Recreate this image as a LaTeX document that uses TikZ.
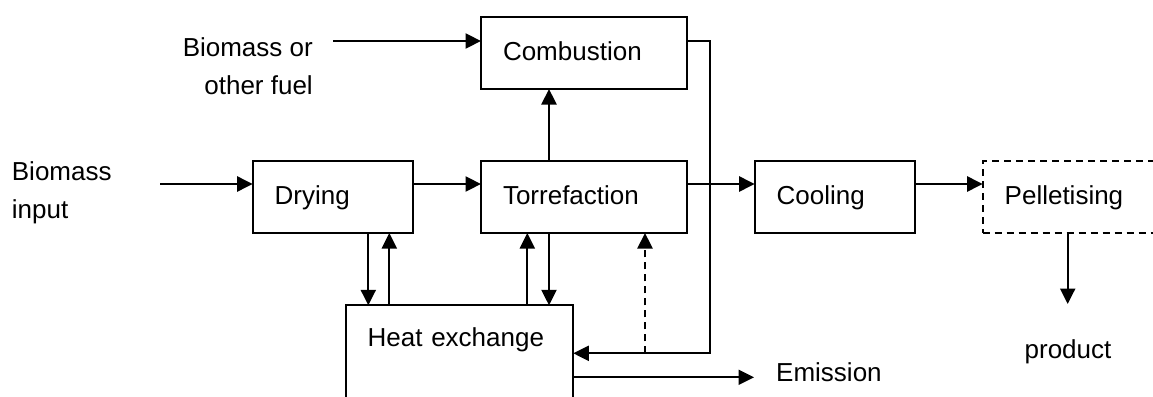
\documentclass[tikz,border=0pt]{standalone}
\usepackage{fontspec}
\setmainfont{Liberation Sans}
\usetikzlibrary{arrows.meta}
\begin{document}
\begin{tikzpicture}[x=1pt,y=-1pt,
  every node/.style={font=\fontsize{26}{31}\selectfont},
  ln/.style={line width=2.2pt},
  arr/.style={ln,-{Triangle[length=15.5pt,width=15pt]}},
  proc/.style={draw,ln,rectangle,anchor=north west,align=left,outer sep=0pt,
    inner xsep=22pt,inner ysep=0pt,text height=19pt,text depth=5pt,minimum height=72pt},
  lbl/.style={inner sep=0pt,anchor=base west}]
\useasboundingbox (0,0) rectangle (1153,396);
\clip (0,0) rectangle (1153,396);

% process boxes
\node[proc,text width=162pt] (comb) at (481,17) {Combustion};
\node[proc,text width=162pt] (torr) at (481,161) {Torrefaction};
\node[proc,text width=116.6pt] (dry) at (252.7,161) {Drying};
\node[proc,text width=116.6pt] (cool) at (754.7,161) {Cooling};
\node[proc,text width=186pt,dash pattern=on 7pt off 5pt] (pel) at (982.7,161) {Pelletising};
\node[proc,text width=183.6pt,inner ysep=22.4pt,text depth=80pt] (heat) at (345.7,305.3) {Heat exchange};

% labels
\node[lbl,anchor=base east] (fuelA) at (313,56.7) {Biomass or};
\node[lbl,anchor=base east] (fuelB) at (313,94) {other fuel};
\node[lbl] (inA) at (11.7,180.7) {Biomass};
\node[lbl] (inB) at (11.7,218) {input};
\node[lbl] (emi) at (776,381.7) {Emission};
\node[lbl,anchor=base] (prod) at (1068,358.3) {product};

% helper coordinates
\coordinate (rowY) at (0,184);
\coordinate (inS) at (160,184);
\coordinate (fuelS) at (333,41);
\coordinate (bend1) at (710,41);
\coordinate (bend2) at (710,353.3);
\coordinate (dashX) at (645,353.3);
\coordinate (emiE) at (754,377.3);
\coordinate (prodE) at (1067.7,304);
\coordinate (xDdown) at (368.3,0);
\coordinate (xDup) at (389.3,0);
\coordinate (xTup) at (527.3,0);
\coordinate (xTdown) at (549,0);

% main flow
\draw[arr] (inS) -- (inS -| dry.west);
\draw[arr] (dry.east |- rowY) -- (torr.west |- rowY);
\draw[arr] (torr.east |- rowY) -- (cool.west |- rowY);
\draw[arr] (cool.east |- rowY) -- (pel.west |- rowY);
\draw[arr] (fuelS) -- (fuelS -| comb.west);
\draw[arr] (xTdown |- torr.north) -- (xTdown |- comb.south);
\draw[arr] (comb.east |- fuelS) -- (bend1) -- (bend2) -- (bend2 -| heat.east);
\draw[arr,dash pattern=on 7pt off 5pt] (dashX) -- (dashX |- torr.south);
\draw[arr] (heat.east |- emiE) -- (emiE);
\draw[arr] (prodE |- pel.south) -- (prodE);

% heat exchange links
\draw[arr] (xDdown |- dry.south) -- (xDdown |- heat.north);
\draw[arr] (xDup |- heat.north) -- (xDup |- dry.south);
\draw[arr] (xTup |- heat.north) -- (xTup |- torr.south);
\draw[arr] (xTdown |- torr.south) -- (xTdown |- heat.north);
\end{tikzpicture}
\end{document}
